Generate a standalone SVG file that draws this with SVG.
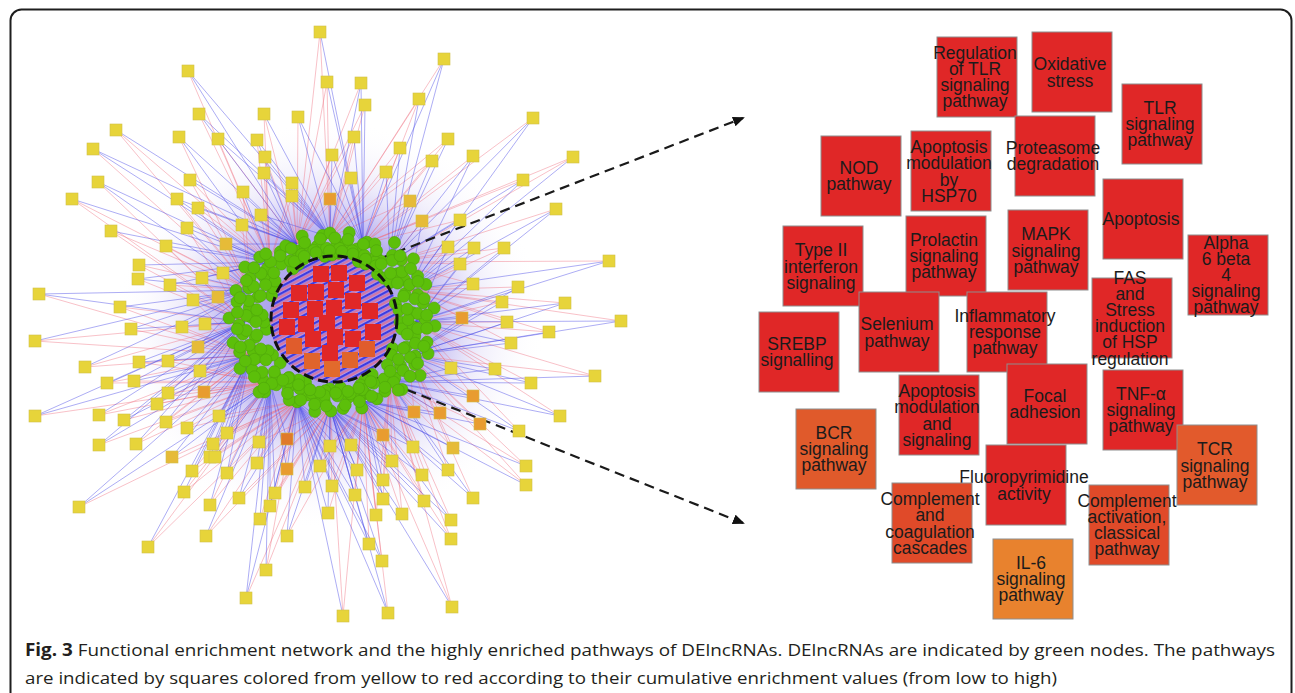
<svg xmlns="http://www.w3.org/2000/svg" width="1295" height="693" viewBox="0 0 1295 693">
<style>
.lbl{font-family:"Liberation Sans",Arial,sans-serif;font-size:17.5px;fill:#1b1b1b;text-anchor:middle}
.pw{stroke:#8e8e8e;stroke-width:1}
.rd{fill:#e02727}
.ys rect{stroke:#cfc04a;stroke-width:0.6}
.y{fill:#e7d43a}
.g{fill:#e6bb38}
.o{fill:#e89c30}
.do{fill:#e07a2a}
.cap{font-family:"Open Sans","Liberation Sans",sans-serif;font-size:17px;fill:#231f20}
.redge{fill:none;stroke:#f07585;stroke-opacity:0.5;stroke-width:0.9}
.bedge{fill:none;stroke:#4a4ae6;stroke-opacity:0.5;stroke-width:0.9}
.arrow{fill:none;stroke:#1a1a1a;stroke-width:2.2;stroke-dasharray:10 6}
</style>
<defs>
<radialGradient id="halo" cx="0.5" cy="0.5" r="0.5">
<stop offset="0" stop-color="#5b4be0" stop-opacity="0.6"/>
<stop offset="0.45" stop-color="#6a5ae0" stop-opacity="0.48"/>
<stop offset="0.7" stop-color="#a89ae8" stop-opacity="0.18"/>
<stop offset="1" stop-color="#ffffff" stop-opacity="0"/>
</radialGradient>
<pattern id="hatch" width="6" height="6" patternUnits="userSpaceOnUse" patternTransform="rotate(62)">
<rect width="6" height="6" fill="#b596e0"/>
<line x1="1" y1="0" x2="1" y2="6" stroke="#3c3ce2" stroke-width="2.4"/>
<line x1="4" y1="0" x2="4" y2="6" stroke="#e8607a" stroke-width="1.2"/>
</pattern>
<marker id="ah" markerWidth="12" markerHeight="10" refX="10" refY="5" orient="auto" markerUnits="userSpaceOnUse">
<path d="M0,0 L12,5 L0,10 z" fill="#111"/>
</marker>
<g id="L1"><circle cx="68" cy="0" r="6"/><circle cx="81" cy="5" r="6"/><circle cx="93" cy="-3" r="6"/><circle cx="103" cy="4" r="6"/></g>
<g id="L2"><circle cx="70" cy="-4" r="6"/><circle cx="84" cy="1" r="6"/><circle cx="97" cy="5" r="6"/></g>
<g id="L3"><circle cx="66" cy="3" r="6"/><circle cx="78" cy="-3" r="6"/><circle cx="90" cy="2" r="6"/><circle cx="101" cy="-5" r="6"/></g>
<g id="S1"><circle cx="67" cy="0" r="6"/><circle cx="79" cy="5" r="6"/><circle cx="89" cy="-2" r="6"/></g>
<g id="S2"><circle cx="69" cy="-4" r="6"/><circle cx="81" cy="2" r="6"/><circle cx="91" cy="3" r="6"/></g>
<g id="S3"><circle cx="66" cy="3" r="6"/><circle cx="77" cy="-3" r="6"/><circle cx="87" cy="4" r="6"/></g>
<circle id="F" cx="86" cy="-1" r="6"/>
<circle id="G" cx="74" cy="1" r="6"/>
<g id="H"><circle cx="76" cy="-5" r="6"/><circle cx="95" cy="3" r="6"/></g>
<g id="K"><circle cx="71" cy="5" r="6"/><circle cx="84" cy="-3" r="6"/></g>
</defs>

<rect id="frame" x="10.5" y="9.5" width="1281" height="700" rx="11" fill="#fff" stroke="#1e1e1e" stroke-width="2"/>

<ellipse cx="330" cy="325" rx="215" ry="205" fill="url(#halo)"/>

<g id="connectors">
<path class="redge" d="M320 32L297 244M320 32L330 237M188 71L270 262M327 82L297 244M327 82L330 237M361 83L297 244M365 105L297 244M365 105L330 237M199 114L270 262M264 114L270 262M264 114L297 244M298 117L297 244M116 130L251 290M116 130L270 262M179 137L251 290M218 139L270 262M218 139L297 244M257 140L270 262M354 137L297 244M354 137L330 237M93 149L251 290M265 157L270 262M265 157L297 244M332 155L297 244M400 148L330 237M400 148L363 244M264 173L270 262M351 178L297 244M351 178L330 237M386 172L330 237M190 180L251 290M190 180L270 262M98 182L245 322M292 183L270 262M292 183L297 244M243 192L251 290M292 196L270 262M292 196L297 244M330 199L297 244M72 199L245 322M72 199L251 290M177 199L251 290M198 208L251 290M198 208L270 262M261 215L270 262M242 225L251 290M242 225L270 262M187 228L245 322M111 231L245 322M111 231L251 290M226 244L251 290M166 246L245 322M166 246L251 290M444 59L330 237M419 99L330 237M419 99L363 244M533 118L363 244M448 139L330 237M448 139L363 244M432 161L330 237M432 161L363 244M473 156L363 244M573 157L363 244M573 157L390 262M523 180L363 244M410 201L330 237M410 201L363 244M556 209L390 262M422 221L363 244M422 221L390 262M460 220L363 244M448 247L390 262M448 247L409 290M474 248L390 262M504 248L390 262M504 248L409 290M609 261L390 262M460 264L390 262M460 264L409 290M518 287L409 290M473 284L390 262M473 284L409 290M565 303L409 290M502 302L409 290M502 302L415 322M462 318L409 290M507 322L409 290M507 322L415 322M621 321L409 290M549 332L409 290M549 332L415 322M511 343L409 290M451 368L415 322M451 368L409 355M495 369L415 322M595 376L415 322M595 376L409 355M531 383L415 322M473 396L415 322M473 396L409 355M560 416L415 322M414 412L409 355M414 412L390 382M440 413L409 355M480 424L409 355M480 424L390 382M519 431L415 322M383 435L390 382M383 435L363 401M413 447L390 382M453 448L409 355M453 448L390 382M392 461L390 382M526 466L409 355M526 466L390 382M448 470L409 355M422 475L390 382M422 475L363 401M383 480L390 382M526 485L409 355M526 485L390 382M473 498L409 355M424 501L390 382M424 501L363 401M383 499L390 382M402 514L390 382M402 514L363 401M451 520L390 382M451 539L390 382M451 539L363 401M382 561L363 401M452 607L390 382M452 607L363 401M388 613L363 401M139 265L245 322M139 265L251 290M138 279L245 322M170 285L245 322M170 285L251 290M202 278L245 322M223 273L245 322M223 273L251 290M39 294L251 355M120 307L251 355M120 307L245 322M193 300L251 355M218 297L245 322M218 297L251 290M131 329L251 355M182 327L251 355M182 327L245 322M205 324L251 355M35 341L251 355M35 341L245 322M198 347L251 355M85 367L251 355M85 367L245 322M139 362L270 382M168 361L270 382M168 361L251 355M200 371L270 382M107 383L270 382M107 383L251 355M134 381L270 382M204 392L270 382M204 392L251 355M168 393L270 382M157 404L270 382M157 404L251 355M35 416L270 382M99 415L270 382M99 415L251 355M124 420L270 382M166 422L270 382M166 422L251 355M219 416L297 401M187 428L297 401M187 428L270 382M227 433L297 401M287 439L330 407M287 439L297 401M99 445L270 382M136 444L270 382M136 444L251 355M213 444L297 401M259 442L330 407M259 442L297 401M330 446L363 401M351 445L363 401M351 445L330 407M172 457L297 401M210 457L297 401M210 457L270 382M215 457L297 401M192 471L297 401M192 471L270 382M227 473L297 401M257 463L330 407M257 463L297 401M287 469L330 407M320 466L363 401M320 466L330 407M357 470L363 401M184 492L297 401M184 492L270 382M239 498L330 407M275 493L330 407M275 493L297 401M305 487L363 401M332 486L363 401M332 486L330 407M355 495L363 401M210 505L297 401M210 505L270 382M270 506L330 407M260 519L330 407M260 519L297 401M328 513L363 401M376 515L390 382M376 515L363 401M79 507L297 401M206 536L330 407M206 536L297 401M287 536L363 401M148 547L297 401M148 547L270 382M369 544L363 401M266 570L330 407M266 570L297 401M246 598L330 407M343 616L363 401M343 616L330 407"/>
<path class="bedge" d="M320 32L363 244M188 71L330 237M188 71L297 244M327 82L363 244M361 83L363 244M361 83L330 237M365 105L363 244M199 114L330 237M199 114L297 244M264 114L330 237M298 117L363 244M298 117L330 237M116 130L297 244M179 137L297 244M179 137L270 262M218 139L330 237M257 140L330 237M257 140L297 244M354 137L363 244M93 149L297 244M93 149L270 262M265 157L330 237M332 155L363 244M332 155L330 237M400 148L390 262M264 173L330 237M264 173L297 244M351 178L363 244M386 172L390 262M386 172L363 244M190 180L297 244M98 182L270 262M98 182L251 290M292 183L330 237M243 192L297 244M243 192L270 262M292 196L330 237M330 199L363 244M330 199L330 237M72 199L270 262M177 199L297 244M177 199L270 262M198 208L297 244M261 215L330 237M261 215L297 244M242 225L297 244M187 228L270 262M187 228L251 290M111 231L270 262M226 244L297 244M226 244L270 262M166 246L270 262M444 59L390 262M444 59L363 244M419 99L390 262M533 118L409 290M533 118L390 262M448 139L390 262M432 161L390 262M473 156L409 290M473 156L390 262M573 157L409 290M523 180L409 290M523 180L390 262M410 201L390 262M556 209L415 322M556 209L409 290M422 221L409 290M460 220L409 290M460 220L390 262M448 247L415 322M474 248L415 322M474 248L409 290M504 248L415 322M609 261L415 322M609 261L409 290M460 264L415 322M518 287L409 355M518 287L415 322M473 284L415 322M565 303L409 355M565 303L415 322M502 302L409 355M462 318L409 355M462 318L415 322M507 322L409 355M621 321L409 355M621 321L415 322M549 332L409 355M511 343L409 355M511 343L415 322M451 368L390 382M495 369L390 382M495 369L409 355M595 376L390 382M531 383L390 382M531 383L409 355M473 396L390 382M560 416L390 382M560 416L409 355M414 412L363 401M440 413L363 401M440 413L390 382M480 424L363 401M519 431L390 382M519 431L409 355M383 435L330 407M413 447L330 407M413 447L363 401M453 448L363 401M392 461L330 407M392 461L363 401M526 466L363 401M448 470L363 401M448 470L390 382M422 475L330 407M383 480L330 407M383 480L363 401M526 485L363 401M473 498L363 401M473 498L390 382M424 501L330 407M383 499L330 407M383 499L363 401M402 514L330 407M451 520L330 407M451 520L363 401M451 539L330 407M382 561L297 401M382 561L330 407M452 607L330 407M388 613L297 401M388 613L330 407M139 265L270 262M138 279L270 262M138 279L251 290M170 285L270 262M202 278L270 262M202 278L251 290M223 273L270 262M39 294L251 290M39 294L245 322M120 307L251 290M193 300L251 290M193 300L245 322M218 297L270 262M131 329L251 290M131 329L245 322M182 327L251 290M205 324L251 290M205 324L245 322M35 341L251 290M198 347L251 290M198 347L245 322M85 367L251 290M139 362L245 322M139 362L251 355M168 361L245 322M200 371L245 322M200 371L251 355M107 383L245 322M134 381L245 322M134 381L251 355M204 392L245 322M168 393L245 322M168 393L251 355M157 404L245 322M35 416L245 322M35 416L251 355M99 415L245 322M124 420L245 322M124 420L251 355M166 422L245 322M219 416L251 355M219 416L270 382M187 428L251 355M227 433L251 355M227 433L270 382M287 439L270 382M99 445L245 322M99 445L251 355M136 444L245 322M213 444L251 355M213 444L270 382M259 442L270 382M330 446L297 401M330 446L330 407M351 445L297 401M172 457L251 355M172 457L270 382M210 457L251 355M215 457L251 355M215 457L270 382M192 471L251 355M227 473L251 355M227 473L270 382M257 463L270 382M287 469L270 382M287 469L297 401M320 466L297 401M357 470L297 401M357 470L330 407M184 492L251 355M239 498L270 382M239 498L297 401M275 493L270 382M305 487L297 401M305 487L330 407M332 486L297 401M355 495L297 401M355 495L330 407M210 505L251 355M270 506L270 382M270 506L297 401M260 519L270 382M328 513L297 401M328 513L330 407M376 515L330 407M79 507L251 355M79 507L270 382M206 536L270 382M287 536L297 401M287 536L330 407M148 547L251 355M369 544L297 401M369 544L330 407M266 570L270 382M246 598L270 382M246 598L297 401M343 616L297 401"/>
<path class="arrow" d="M366 264L743 118" marker-end="url(#ah)"/>
<path class="arrow" d="M362 372L743 523" marker-end="url(#ah)"/>
</g>

<g id="core">
<circle cx="334" cy="319" r="64" fill="url(#hatch)"/>
<g id="core-pathways">
<rect class="rd" x="313" y="266" width="16" height="16"/><rect class="rd" x="331" y="265" width="16" height="16"/><rect class="rd" x="349" y="275" width="16" height="16"/><rect class="rd" x="291" y="285" width="16" height="16"/><rect class="rd" x="308" y="284" width="16" height="16"/><rect class="rd" x="328" y="282" width="16" height="16"/><rect class="rd" x="345" y="293" width="16" height="16"/><rect class="rd" x="283" y="302" width="16" height="16"/><rect class="rd" x="307" y="301" width="16" height="16"/><rect class="rd" x="326" y="300" width="16" height="16"/><rect class="rd" x="362" y="303" width="16" height="16"/><rect class="rd" x="279" y="319" width="16" height="16"/><rect class="rd" x="298" y="316" width="16" height="16"/><rect class="rd" x="319" y="315" width="16" height="16"/><rect class="rd" x="342" y="313" width="16" height="16"/><rect class="rd" x="365" y="324" width="16" height="16"/><rect class="rd" x="305" y="331" width="16" height="16"/><rect class="rd" x="327" y="329" width="16" height="16"/><rect class="rd" x="345" y="331" width="16" height="16"/><rect class="rd" x="322" y="345" width="16" height="16"/>
<rect fill="#e05c2c" x="286" y="338" width="16" height="16"/><rect fill="#e05c2c" x="359" y="341" width="16" height="16"/><rect fill="#e0642c" x="304" y="353" width="16" height="16"/><rect fill="#e0642c" x="342" y="352" width="16" height="16"/><rect fill="#e26a2c" x="324" y="361" width="16" height="16"/>
</g>
</g>

<g id="lncRNA-nodes" fill="#5cbf0a" stroke="#4fa80a" stroke-width="0.6">
<g transform="translate(332 322)">
<use href="#L1" transform="rotate(0)"/><use href="#L2" transform="rotate(9)"/><use href="#L3" transform="rotate(21)"/><use href="#L1" transform="rotate(29)"/><use href="#L2" transform="rotate(41)"/><use href="#S3" transform="rotate(50)"/><use href="#S1" transform="rotate(61)"/><use href="#S2" transform="rotate(69)"/><use href="#S3" transform="rotate(80)"/><use href="#S1" transform="rotate(92)"/><use href="#S2" transform="rotate(99)"/><use href="#S3" transform="rotate(111)"/><use href="#S1" transform="rotate(120)"/><use href="#L2" transform="rotate(131)"/><use href="#L3" transform="rotate(139)"/><use href="#L1" transform="rotate(151)"/><use href="#L2" transform="rotate(159)"/><use href="#L3" transform="rotate(171)"/><use href="#L1" transform="rotate(180)"/><use href="#L2" transform="rotate(189)"/><use href="#L3" transform="rotate(201)"/><use href="#L1" transform="rotate(210)"/><use href="#L2" transform="rotate(219)"/><use href="#S3" transform="rotate(231)"/><use href="#S1" transform="rotate(240)"/><use href="#S2" transform="rotate(249)"/><use href="#S3" transform="rotate(261)"/><use href="#S1" transform="rotate(270)"/><use href="#S2" transform="rotate(279)"/><use href="#S3" transform="rotate(291)"/><use href="#S1" transform="rotate(300)"/><use href="#L3" transform="rotate(311)"/><use href="#L1" transform="rotate(320)"/><use href="#L2" transform="rotate(329)"/><use href="#L3" transform="rotate(341)"/><use href="#L1" transform="rotate(350)"/>
<use href="#F" transform="rotate(5)"/><use href="#F" transform="rotate(15)"/><use href="#F" transform="rotate(25)"/><use href="#F" transform="rotate(35)"/><use href="#F" transform="rotate(45)"/><use href="#G" transform="rotate(55)"/><use href="#G" transform="rotate(65)"/><use href="#G" transform="rotate(75)"/><use href="#G" transform="rotate(85)"/><use href="#G" transform="rotate(95)"/><use href="#G" transform="rotate(105)"/><use href="#G" transform="rotate(115)"/><use href="#G" transform="rotate(125)"/><use href="#F" transform="rotate(135)"/><use href="#F" transform="rotate(145)"/><use href="#F" transform="rotate(155)"/><use href="#F" transform="rotate(165)"/><use href="#F" transform="rotate(175)"/><use href="#F" transform="rotate(185)"/><use href="#F" transform="rotate(195)"/><use href="#F" transform="rotate(205)"/><use href="#F" transform="rotate(215)"/><use href="#F" transform="rotate(225)"/><use href="#G" transform="rotate(235)"/><use href="#G" transform="rotate(245)"/><use href="#G" transform="rotate(255)"/><use href="#G" transform="rotate(265)"/><use href="#G" transform="rotate(275)"/><use href="#G" transform="rotate(285)"/><use href="#G" transform="rotate(295)"/><use href="#G" transform="rotate(305)"/><use href="#F" transform="rotate(315)"/><use href="#F" transform="rotate(325)"/><use href="#F" transform="rotate(335)"/><use href="#F" transform="rotate(345)"/><use href="#F" transform="rotate(355)"/>
<use href="#H" transform="rotate(2)"/><use href="#H" transform="rotate(13)"/><use href="#H" transform="rotate(24)"/><use href="#H" transform="rotate(33)"/><use href="#H" transform="rotate(44)"/><use href="#K" transform="rotate(53)"/><use href="#K" transform="rotate(64)"/><use href="#K" transform="rotate(73)"/><use href="#K" transform="rotate(83)"/><use href="#K" transform="rotate(96)"/><use href="#K" transform="rotate(104)"/><use href="#K" transform="rotate(114)"/><use href="#K" transform="rotate(124)"/><use href="#H" transform="rotate(134)"/><use href="#H" transform="rotate(143)"/><use href="#H" transform="rotate(154)"/><use href="#H" transform="rotate(163)"/><use href="#H" transform="rotate(174)"/><use href="#H" transform="rotate(184)"/><use href="#H" transform="rotate(193)"/><use href="#H" transform="rotate(204)"/><use href="#H" transform="rotate(213)"/><use href="#H" transform="rotate(224)"/><use href="#K" transform="rotate(234)"/><use href="#K" transform="rotate(243)"/><use href="#K" transform="rotate(253)"/><use href="#K" transform="rotate(264)"/><use href="#K" transform="rotate(274)"/><use href="#K" transform="rotate(283)"/><use href="#K" transform="rotate(294)"/><use href="#K" transform="rotate(304)"/><use href="#H" transform="rotate(314)"/><use href="#H" transform="rotate(324)"/><use href="#H" transform="rotate(333)"/><use href="#H" transform="rotate(344)"/><use href="#H" transform="rotate(354)"/>
</g>
</g>

<circle id="focus-ring" cx="334" cy="319" r="63" fill="none" stroke="#111" stroke-width="3" stroke-dasharray="10 5"/>

<g id="pathway-nodes" class="ys">
<rect class="y" x="314" y="26" width="12" height="12"/><rect class="y" x="182" y="65" width="12" height="12"/><rect class="y" x="321" y="76" width="12" height="12"/><rect class="y" x="355" y="77" width="12" height="12"/><rect class="y" x="359" y="99" width="12" height="12"/><rect class="y" x="193" y="108" width="12" height="12"/><rect class="y" x="258" y="108" width="12" height="12"/><rect class="y" x="292" y="111" width="12" height="12"/><rect class="y" x="110" y="124" width="12" height="12"/><rect class="y" x="173" y="131" width="12" height="12"/><rect class="y" x="212" y="133" width="12" height="12"/><rect class="y" x="251" y="134" width="12" height="12"/><rect class="y" x="348" y="131" width="12" height="12"/><rect class="y" x="87" y="143" width="12" height="12"/><rect class="y" x="259" y="151" width="12" height="12"/><rect class="y" x="326" y="149" width="12" height="12"/><rect class="y" x="394" y="142" width="12" height="12"/><rect class="y" x="258" y="167" width="12" height="12"/><rect class="y" x="345" y="172" width="12" height="12"/><rect class="y" x="380" y="166" width="12" height="12"/><rect class="y" x="184" y="174" width="12" height="12"/><rect class="y" x="92" y="176" width="12" height="12"/><rect class="y" x="286" y="177" width="12" height="12"/><rect class="y" x="237" y="186" width="12" height="12"/><rect class="y" x="286" y="190" width="12" height="12"/><rect class="o" x="324" y="193" width="12" height="12"/><rect class="y" x="66" y="193" width="12" height="12"/><rect class="y" x="171" y="193" width="12" height="12"/><rect class="y" x="192" y="202" width="12" height="12"/><rect class="y" x="255" y="209" width="12" height="12"/><rect class="y" x="236" y="219" width="12" height="12"/><rect class="y" x="181" y="222" width="12" height="12"/><rect class="y" x="105" y="225" width="12" height="12"/><rect class="g" x="220" y="238" width="12" height="12"/><rect class="y" x="160" y="240" width="12" height="12"/>
<rect class="y" x="438" y="53" width="12" height="12"/><rect class="y" x="413" y="93" width="12" height="12"/><rect class="y" x="527" y="112" width="12" height="12"/><rect class="y" x="442" y="133" width="12" height="12"/><rect class="y" x="426" y="155" width="12" height="12"/><rect class="y" x="467" y="150" width="12" height="12"/><rect class="y" x="567" y="151" width="12" height="12"/><rect class="y" x="517" y="174" width="12" height="12"/><rect class="g" x="404" y="195" width="12" height="12"/><rect class="y" x="550" y="203" width="12" height="12"/><rect class="g" x="416" y="215" width="12" height="12"/><rect class="y" x="454" y="214" width="12" height="12"/><rect class="y" x="442" y="241" width="12" height="12"/><rect class="y" x="468" y="242" width="12" height="12"/><rect class="y" x="498" y="242" width="12" height="12"/>
<rect class="y" x="603" y="255" width="12" height="12"/><rect class="y" x="454" y="258" width="12" height="12"/><rect class="y" x="512" y="281" width="12" height="12"/><rect class="y" x="467" y="278" width="12" height="12"/><rect class="y" x="559" y="297" width="12" height="12"/><rect class="y" x="496" y="296" width="12" height="12"/><rect class="o" x="456" y="312" width="12" height="12"/><rect class="y" x="501" y="316" width="12" height="12"/><rect class="y" x="615" y="315" width="12" height="12"/><rect class="y" x="543" y="326" width="12" height="12"/><rect class="y" x="505" y="337" width="12" height="12"/><rect class="y" x="445" y="362" width="12" height="12"/><rect class="y" x="489" y="363" width="12" height="12"/><rect class="y" x="589" y="370" width="12" height="12"/><rect class="y" x="525" y="377" width="12" height="12"/><rect class="o" x="467" y="390" width="12" height="12"/><rect class="y" x="554" y="410" width="12" height="12"/><rect class="o" x="408" y="406" width="12" height="12"/><rect class="o" x="434" y="407" width="12" height="12"/><rect class="o" x="474" y="418" width="12" height="12"/><rect class="y" x="513" y="425" width="12" height="12"/><rect class="o" x="377" y="429" width="12" height="12"/><rect class="y" x="407" y="441" width="12" height="12"/><rect class="g" x="447" y="442" width="12" height="12"/><rect class="y" x="386" y="455" width="12" height="12"/><rect class="y" x="520" y="460" width="12" height="12"/><rect class="y" x="442" y="464" width="12" height="12"/><rect class="y" x="416" y="469" width="12" height="12"/><rect class="y" x="377" y="474" width="12" height="12"/><rect class="y" x="520" y="479" width="12" height="12"/><rect class="y" x="467" y="492" width="12" height="12"/><rect class="y" x="418" y="495" width="12" height="12"/><rect class="y" x="377" y="493" width="12" height="12"/><rect class="y" x="396" y="508" width="12" height="12"/><rect class="y" x="445" y="514" width="12" height="12"/><rect class="y" x="445" y="533" width="12" height="12"/><rect class="y" x="376" y="555" width="12" height="12"/><rect class="y" x="446" y="601" width="12" height="12"/><rect class="y" x="382" y="607" width="12" height="12"/>
<rect class="y" x="133" y="259" width="12" height="12"/><rect class="y" x="132" y="273" width="12" height="12"/><rect class="y" x="164" y="279" width="12" height="12"/><rect class="y" x="196" y="272" width="12" height="12"/><rect class="y" x="217" y="267" width="12" height="12"/><rect class="y" x="33" y="288" width="12" height="12"/><rect class="y" x="114" y="301" width="12" height="12"/><rect class="y" x="187" y="294" width="12" height="12"/><rect class="g" x="212" y="291" width="12" height="12"/><rect class="y" x="125" y="323" width="12" height="12"/><rect class="y" x="176" y="321" width="12" height="12"/><rect class="y" x="199" y="318" width="12" height="12"/><rect class="y" x="29" y="335" width="12" height="12"/><rect class="g" x="192" y="341" width="12" height="12"/><rect class="y" x="79" y="361" width="12" height="12"/><rect class="y" x="133" y="356" width="12" height="12"/><rect class="y" x="162" y="355" width="12" height="12"/><rect class="y" x="194" y="365" width="12" height="12"/><rect class="y" x="101" y="377" width="12" height="12"/><rect class="y" x="128" y="375" width="12" height="12"/><rect class="o" x="198" y="386" width="12" height="12"/><rect class="y" x="162" y="387" width="12" height="12"/><rect class="y" x="151" y="398" width="12" height="12"/><rect class="y" x="29" y="410" width="12" height="12"/><rect class="y" x="93" y="409" width="12" height="12"/><rect class="y" x="118" y="414" width="12" height="12"/><rect class="y" x="160" y="416" width="12" height="12"/><rect class="y" x="213" y="410" width="12" height="12"/><rect class="y" x="181" y="422" width="12" height="12"/><rect class="y" x="221" y="427" width="12" height="12"/><rect class="do" x="281" y="433" width="12" height="12"/><rect class="y" x="93" y="439" width="12" height="12"/><rect class="y" x="130" y="438" width="12" height="12"/><rect class="y" x="207" y="438" width="12" height="12"/><rect class="y" x="253" y="436" width="12" height="12"/><rect class="y" x="324" y="440" width="12" height="12"/><rect class="y" x="345" y="439" width="12" height="12"/><rect class="g" x="166" y="451" width="12" height="12"/><rect class="y" x="204" y="451" width="12" height="12"/><rect class="y" x="209" y="451" width="12" height="12"/><rect class="y" x="186" y="465" width="12" height="12"/><rect class="y" x="221" y="467" width="12" height="12"/><rect class="y" x="251" y="457" width="12" height="12"/><rect class="o" x="281" y="463" width="12" height="12"/><rect class="y" x="314" y="460" width="12" height="12"/><rect class="y" x="351" y="464" width="12" height="12"/><rect class="y" x="178" y="486" width="12" height="12"/><rect class="y" x="233" y="492" width="12" height="12"/><rect class="y" x="269" y="487" width="12" height="12"/><rect class="y" x="299" y="481" width="12" height="12"/><rect class="y" x="326" y="480" width="12" height="12"/><rect class="y" x="349" y="489" width="12" height="12"/><rect class="y" x="204" y="499" width="12" height="12"/><rect class="y" x="264" y="500" width="12" height="12"/><rect class="y" x="254" y="513" width="12" height="12"/><rect class="y" x="322" y="507" width="12" height="12"/><rect class="y" x="370" y="509" width="12" height="12"/><rect class="y" x="73" y="501" width="12" height="12"/><rect class="y" x="200" y="530" width="12" height="12"/><rect class="y" x="281" y="530" width="12" height="12"/><rect class="y" x="142" y="541" width="12" height="12"/><rect class="y" x="363" y="538" width="12" height="12"/><rect class="y" x="260" y="564" width="12" height="12"/><rect class="y" x="240" y="592" width="12" height="12"/><rect class="y" x="337" y="610" width="12" height="12"/>
</g>

<g id="enriched-pathways">
<g id="p-regulation-tlr"><rect class="pw" x="937" y="37" width="80" height="80" fill="#e02727"/><text class="lbl"><tspan x="975" y="58.7">Regulation</tspan><tspan x="975" y="74.9">of TLR</tspan><tspan x="975" y="91.1">signaling</tspan><tspan x="975" y="107.3">pathway</tspan></text></g>
<g id="p-oxidative"><rect class="pw" x="1032" y="32" width="80" height="80" fill="#e02727"/><text class="lbl"><tspan x="1070" y="70.4">Oxidative</tspan><tspan x="1070" y="86.6">stress</tspan></text></g>
<g id="p-tlr"><rect class="pw" x="1122" y="84" width="80" height="80" fill="#e02727"/><text class="lbl"><tspan x="1160" y="113.8">TLR</tspan><tspan x="1160" y="130">signaling</tspan><tspan x="1160" y="146.2">pathway</tspan></text></g>
<g id="p-nod"><rect class="pw" x="821" y="136" width="80" height="80" fill="#e02727"/><text class="lbl"><tspan x="859" y="174">NOD</tspan><tspan x="859" y="190">pathway</tspan></text></g>
<g id="p-hsp70"><rect class="pw" x="911" y="131" width="80" height="80" fill="#e02727"/><text class="lbl"><tspan x="949" y="153.2">Apoptosis</tspan><tspan x="949" y="169.4">modulation</tspan><tspan x="949" y="185.6">by</tspan><tspan x="949" y="201.8">HSP70</tspan></text></g>
<g id="p-proteasome"><rect class="pw" x="1015" y="116" width="80" height="80" fill="#e02727"/><text class="lbl"><tspan x="1053" y="154">Proteasome</tspan><tspan x="1053" y="170">degradation</tspan></text></g>
<g id="p-apoptosis"><rect class="pw" x="1103" y="179" width="80" height="80" fill="#e02727"/><text class="lbl"><tspan x="1141" y="225">Apoptosis</tspan></text></g>
<g id="p-type2-ifn"><rect class="pw" x="783" y="226" width="80" height="80" fill="#e02727"/><text class="lbl"><tspan x="821" y="256.3">Type II</tspan><tspan x="821" y="272.5">interferon</tspan><tspan x="821" y="288.7">signaling</tspan></text></g>
<g id="p-prolactin"><rect class="pw" x="906" y="216" width="80" height="80" fill="#e02727"/><text class="lbl"><tspan x="944" y="245.8">Prolactin</tspan><tspan x="944" y="262">signaling</tspan><tspan x="944" y="278.2">pathway</tspan></text></g>
<g id="p-mapk"><rect class="pw" x="1008" y="210" width="80" height="80" fill="#e02727"/><text class="lbl"><tspan x="1046" y="240.3">MAPK</tspan><tspan x="1046" y="256.5">signaling</tspan><tspan x="1046" y="272.7">pathway</tspan></text></g>
<g id="p-alpha6beta4"><rect class="pw" x="1188" y="235" width="80" height="80" fill="#e02727"/><text class="lbl"><tspan x="1226" y="248.6">Alpha</tspan><tspan x="1226" y="264.8">6 beta</tspan><tspan x="1226" y="281">4</tspan><tspan x="1226" y="297.2">signaling</tspan><tspan x="1226" y="313.4">pathway</tspan></text></g>
<g id="p-fas"><rect class="pw" x="1092" y="278" width="80" height="80" fill="#e02727"/><text class="lbl"><tspan x="1130" y="283.5">FAS</tspan><tspan x="1130" y="299.7">and</tspan><tspan x="1130" y="315.9">Stress</tspan><tspan x="1130" y="332.1">induction</tspan><tspan x="1130" y="348.3">of HSP</tspan><tspan x="1130" y="364.5">regulation</tspan></text></g>
<g id="p-srebp"><rect class="pw" x="759" y="312" width="80" height="80" fill="#e02727"/><text class="lbl"><tspan x="797" y="350">SREBP</tspan><tspan x="797" y="366">signalling</tspan></text></g>
<g id="p-selenium"><rect class="pw" x="859" y="292" width="80" height="80" fill="#e02727"/><text class="lbl"><tspan x="897" y="330.4">Selenium</tspan><tspan x="897" y="346.6">pathway</tspan></text></g>
<g id="p-inflammatory"><rect class="pw" x="967" y="292" width="80" height="80" fill="#e02727"/><text class="lbl"><tspan x="1005" y="321.8">Inflammatory</tspan><tspan x="1005" y="338">response</tspan><tspan x="1005" y="354.2">pathway</tspan></text></g>
<g id="p-apop-mod"><rect class="pw" x="899" y="375" width="80" height="80" fill="#e02727"/><text class="lbl"><tspan x="937" y="397.2">Apoptosis</tspan><tspan x="937" y="413.4">modulation</tspan><tspan x="937" y="429.6">and</tspan><tspan x="937" y="445.8">signaling</tspan></text></g>
<g id="p-focal"><rect class="pw" x="1007" y="364" width="80" height="80" fill="#e02727"/><text class="lbl"><tspan x="1045" y="402">Focal</tspan><tspan x="1045" y="418">adhesion</tspan></text></g>
<g id="p-tnf"><rect class="pw" x="1103" y="370" width="80" height="80" fill="#e02727"/><text class="lbl"><tspan x="1141" y="399.8">TNF-α</tspan><tspan x="1141" y="416">signaling</tspan><tspan x="1141" y="432.2">pathway</tspan></text></g>
<g id="p-bcr"><rect class="pw" x="796" y="409" width="80" height="80" fill="#e05a2b"/><text class="lbl"><tspan x="834" y="438.8">BCR</tspan><tspan x="834" y="455">signaling</tspan><tspan x="834" y="471.2">pathway</tspan></text></g>
<g id="p-tcr"><rect class="pw" x="1177" y="425" width="80" height="80" fill="#e25a2c"/><text class="lbl"><tspan x="1215" y="455.3">TCR</tspan><tspan x="1215" y="471.5">signaling</tspan><tspan x="1215" y="487.7">pathway</tspan></text></g>
<g id="p-fluoro"><rect class="pw" x="986" y="445" width="80" height="80" fill="#e02727"/><text class="lbl"><tspan x="1024" y="483.4">Fluoropyrimidine</tspan><tspan x="1024" y="499.6">activity</tspan></text></g>
<g id="p-complement-coag"><rect class="pw" x="892" y="483" width="80" height="80" fill="#e04a29"/><text class="lbl"><tspan x="930" y="505.2">Complement</tspan><tspan x="930" y="521.4">and</tspan><tspan x="930" y="537.6">coagulation</tspan><tspan x="930" y="553.8">cascades</tspan></text></g>
<g id="p-complement-act"><rect class="pw" x="1089" y="485" width="80" height="80" fill="#e04a29"/><text class="lbl"><tspan x="1127" y="506.7">Complement</tspan><tspan x="1127" y="522.9">activation,</tspan><tspan x="1127" y="539.1">classical</tspan><tspan x="1127" y="555.3">pathway</tspan></text></g>
<g id="p-il6"><rect class="pw" x="993" y="539" width="80" height="80" fill="#e8822e"/><text class="lbl"><tspan x="1031" y="568.8">IL-6</tspan><tspan x="1031" y="585">signaling</tspan><tspan x="1031" y="601.2">pathway</tspan></text></g>
</g>

<g id="caption">
<text class="cap" x="25" y="656" textLength="1250" lengthAdjust="spacingAndGlyphs"><tspan font-weight="bold">Fig. 3</tspan> Functional enrichment network and the highly enriched pathways of DElncRNAs. DElncRNAs are indicated by green nodes. The pathways</text>
<text class="cap" x="25" y="684" textLength="1032" lengthAdjust="spacingAndGlyphs">are indicated by squares colored from yellow to red according to their cumulative enrichment values (from low to high)</text>
</g>
</svg>
